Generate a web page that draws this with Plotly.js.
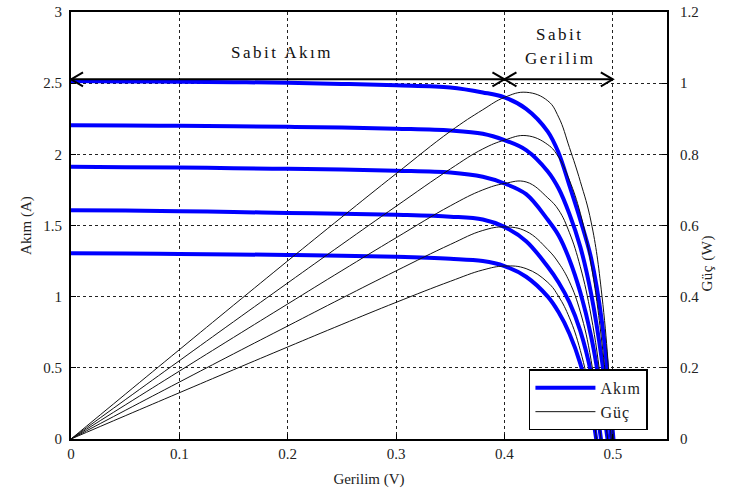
<!DOCTYPE html>
<html>
<head>
<meta charset="utf-8">
<script src="https://cdn.plot.ly/plotly-3.0.1.min.js"></script>
<style>
  html, body { margin: 0; padding: 0; background: #fff; }
  #chart { width: 736px; height: 495px; }
  .annotation-text { letter-spacing: 2.5px; }
  .annotation[data-index="3"] .annotation-text { letter-spacing: 0.5px; }
  .legendtext { letter-spacing: 1px; }
</style>
</head>
<body>
<div id="chart"></div>
<script>
// Voltage samples (V)
const voltage = [0, 0.05, 0.10, 0.15, 0.20, 0.25, 0.30, 0.35, 0.38, 0.40, 0.42, 0.44, 0.45, 0.46, 0.47, 0.48, 0.49, 0.50, 0.51];

// Current curves (A), highest irradiance first
const current1 = [2.515, 2.512, 2.510, 2.507, 2.503, 2.495, 2.485, 2.470, 2.435, 2.400, 2.320, 2.160, 2.010, 1.780, 1.540, 1.270, 0.820, 0.050, -0.900];
const current2 = [2.205, 2.203, 2.200, 2.197, 2.193, 2.188, 2.180, 2.168, 2.145, 2.100, 2.030, 1.880, 1.760, 1.580, 1.350, 1.020, 0.550, -0.100, -0.900];
const current3 = [1.912, 1.910, 1.907, 1.903, 1.898, 1.893, 1.885, 1.872, 1.842, 1.795, 1.720, 1.540, 1.430, 1.260, 1.030, 0.720, 0.280, -0.300, -1.000];
const current4 = [1.608, 1.605, 1.600, 1.595, 1.588, 1.583, 1.575, 1.562, 1.542, 1.490, 1.390, 1.210, 1.100, 0.960, 0.760, 0.460, -0.050, -0.600, -1.200];
const current5 = [1.305, 1.303, 1.300, 1.297, 1.293, 1.288, 1.280, 1.266, 1.250, 1.215, 1.140, 1.000, 0.890, 0.740, 0.530, 0.220, -0.300, -0.900, -1.500];

// Power curves (W) (right axis)
const power1 = [0, 0.1256, 0.2510, 0.3761, 0.5006, 0.6238, 0.7455, 0.8645, 0.9253, 0.9600, 0.9744, 0.9504, 0.9045, 0.8188, 0.7238, 0.6096, 0.4018, 0.0250, -0.459];
const power2 = [0, 0.1102, 0.2200, 0.3296, 0.4386, 0.5470, 0.6540, 0.7588, 0.8151, 0.8400, 0.8526, 0.8272, 0.7920, 0.7268, 0.6345, 0.4896, 0.2695, -0.050, -0.459];
const power3 = [0, 0.0955, 0.1907, 0.2855, 0.3796, 0.4733, 0.5655, 0.6552, 0.7000, 0.7180, 0.7224, 0.6776, 0.6435, 0.5796, 0.4841, 0.3456, 0.1372, -0.150, -0.510];
const power4 = [0, 0.0803, 0.1600, 0.2393, 0.3176, 0.3958, 0.4725, 0.5467, 0.5860, 0.5960, 0.5838, 0.5324, 0.4950, 0.4416, 0.3572, 0.2208, -0.0245, -0.300, -0.612];
const power5 = [0, 0.0652, 0.1300, 0.1946, 0.2586, 0.3220, 0.3840, 0.4431, 0.4750, 0.4860, 0.4788, 0.4400, 0.4005, 0.3404, 0.2491, 0.1056, -0.147, -0.450, -0.765];

// Tick labels
const xTicks = [0, 0.1, 0.2, 0.3, 0.4, 0.5];
const xTickText = ["0", "0.1", "0.2", "0.3", "0.4", "0.5"];
const yTicks = [0, 0.5, 1, 1.5, 2, 2.5, 3];
const yTickText = ["0", "0.5", "1", "1.5", "2", "2.5", "3"];
const y2Ticks = [0, 0.2, 0.4, 0.6, 0.8, 1, 1.2];
const y2TickText = ["0", "0.2", "0.4", "0.6", "0.8", "1", "1.2"];

// Region markers (arrow) values
const arrowLevel = 2.527;
const arrowStart = 0;
const arrowMid = 0.4;
const arrowEnd = 0.5;

const FONT = "Liberation Serif, Times New Roman, serif";
const BLUE = "#0000ff";

const currents = [current1, current2, current3, current4, current5];
const powers = [power1, power2, power3, power4, power5];

const traces = [];
currents.forEach((c, i) => {
  traces.push({
    x: voltage, y: c, type: "scatter", mode: "lines",
    name: "Akım", showlegend: i === 0, legendrank: 1,
    line: { color: BLUE, width: 4, shape: "spline", smoothing: 1.0 },
    xaxis: "x", yaxis: "y", hoverinfo: "skip"
  });
});
powers.forEach((p, i) => {
  traces.push({
    x: voltage, y: p, type: "scatter", mode: "lines",
    name: "Güç", showlegend: i === 0, legendrank: 2,
    line: { color: "#111", width: 1, shape: "spline", smoothing: 1.2 },
    xaxis: "x", yaxis: "y2", hoverinfo: "skip"
  });
});

function chevron(xPos, dir) {
  // dir = -1 : points left ("<"), dir = +1 : points right (">")
  const w = 12 * -dir, h = 7;
  return {
    type: "path", xref: "x", yref: "y",
    xsizemode: "pixel", ysizemode: "pixel",
    xanchor: xPos, yanchor: arrowLevel,
    path: `M ${w} ${h} L 0 0 L ${w} ${-h}`,
    line: { color: "#000", width: 2 }
  };
}

const layout = {
  width: 736, height: 495,
  margin: { l: 71, r: 69, t: 12, b: 56 },
  paper_bgcolor: "#fff", plot_bgcolor: "#fff",
  font: { family: FONT, size: 14, color: "#222" },
  showlegend: true,
  legend: {
    x: 0.968, y: 0.02, xanchor: "right", yanchor: "bottom",
    bgcolor: "#fff", bordercolor: "#000", borderwidth: 1.5,
    font: { family: FONT, size: 16, color: "#222" },
    itemwidth: 60, tracegroupgap: 0
  },
  xaxis: {
    range: [0, 0.55], tickvals: xTicks, ticktext: xTickText,
    showgrid: true, gridcolor: "#222", griddash: "dot", gridwidth: 1,
    zeroline: false, showline: true, linecolor: "#000", linewidth: 2,
    mirror: true, ticks: "inside", ticklen: 5, tickcolor: "#000",
    tickfont: { family: FONT, size: 15, color: "#222" },
    title: { text: "Gerilim (V)", font: { family: FONT, size: 15, color: "#222" }, standoff: 12 }
  },
  yaxis: {
    range: [0, 3], tickvals: yTicks, ticktext: yTickText,
    showgrid: true, gridcolor: "#222", griddash: "dot", gridwidth: 1,
    zeroline: false, showline: true, linecolor: "#000", linewidth: 2,
    mirror: true, ticks: "inside", ticklen: 5, tickcolor: "#000",
    ticklabelstandoff: 4,
    tickfont: { family: FONT, size: 15, color: "#222" },
    title: { text: "Akım (A)", font: { family: FONT, size: 15, color: "#222" }, standoff: 8 }
  },
  yaxis2: {
    range: [0, 1.2], tickvals: y2Ticks, ticktext: y2TickText,
    overlaying: "y", side: "right", anchor: "x",
    showgrid: false, zeroline: false, showline: false,
    ticks: "inside", ticklen: 5, tickcolor: "#000",
    ticklabelstandoff: 12,
    tickfont: { family: FONT, size: 15, color: "#222" }
  },
  shapes: [
    { type: "line", xref: "x", yref: "y", x0: arrowStart, x1: arrowEnd, y0: arrowLevel, y1: arrowLevel,
      line: { color: "#000", width: 2 } },
    chevron(arrowStart, -1),
    chevron(arrowMid, 1),
    chevron(arrowMid, -1),
    chevron(arrowEnd, 1)
  ],
  annotations: [
    { text: "Sabit Akım", xref: "x", yref: "paper", x: 0.195, y: 0.905, yanchor: "middle",
      showarrow: false, font: { family: FONT, size: 17, color: "#111" } },
    { text: "Sabit", xref: "x", yref: "paper", x: 0.451, y: 0.947, yanchor: "middle",
      showarrow: false, font: { family: FONT, size: 17, color: "#111" } },
    { text: "Gerilim", xref: "x", yref: "paper", x: 0.451, y: 0.89, yanchor: "middle",
      showarrow: false, font: { family: FONT, size: 17, color: "#111" } },
    { text: "Güç (W)", xref: "paper", yref: "paper", x: 1.068, y: 0.41,
      xanchor: "center", yanchor: "middle", textangle: -90,
      showarrow: false, font: { family: FONT, size: 15, color: "#222" } }
  ]
};

Plotly.newPlot("chart", traces, layout, { staticPlot: true, displayModeBar: false });
</script>
</body>
</html>
